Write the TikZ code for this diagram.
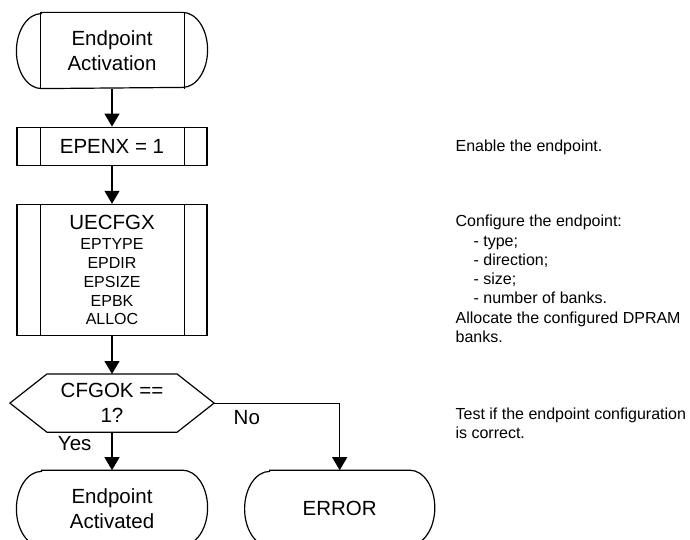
\documentclass[tikz,border=0pt]{standalone}
\usepackage{fontspec}
\setmainfont{Liberation Sans}
\usetikzlibrary{arrows.meta,positioning}
\newcommand\bigtxt{\fontsize{20.5pt}{25pt}\selectfont}
\newcommand\smalltxt{\fontsize{16pt}{18.7pt}\selectfont}
\newcommand\notetxt{\fontsize{16pt}{19.3pt}\selectfont}

\begin{document}
\begin{tikzpicture}[x=1pt,y=1pt,>={Triangle[width=15pt,length=13pt]},line width=1.2pt,node distance=38pt and 37pt,
  term/.style={inner sep=0,align=center,font=\bigtxt,minimum width=190pt,minimum height=75pt},
  proc/.style={draw,inner sep=0,align=center,font=\bigtxt,minimum width=190pt},
  test/.style={inner sep=0,align=center,font=\bigtxt,minimum width=203pt,minimum height=57pt},
  note/.style={inner sep=0,align=left,anchor=base west,font=\notetxt},
  lbl/.style={inner sep=0,font=\bigtxt}]
\useasboundingbox (0,0) rectangle (690,-540);
\node[term] (start) at (112,-50.5) {Endpoint\\Activation};
\node[proc,minimum height=38pt,below=of start] (enx) {EPENX = 1};
\node[proc,minimum height=131pt,below=of enx,font=\smalltxt] (cfg) {{\bigtxt UECFGX}\\[2pt]EPTYPE\\EPDIR\\EPSIZE\\EPBK\\ALLOC};
\node[test,below=of cfg] (ok) {CFGOK ==\\1?};
\node[term,below=of ok] (done) {Endpoint\\Activated};
\node[term,minimum width=189pt,right=of done] (err) {ERROR};
% outlines of the terminals, side bars and the test
\foreach \n in {start,done,err}
  \draw ([xshift=25pt]\n.north west) -- ([xshift=-25pt]\n.north east)
    arc[start angle=90,end angle=-90,x radius=25pt,y radius=37.5pt]
    -- ([xshift=25pt]\n.south west)
    arc[start angle=270,end angle=90,x radius=25pt,y radius=37.5pt] -- cycle;
\foreach \n in {start,enx,cfg}
  \draw ([xshift=24pt]\n.north west) -- ([xshift=24pt]\n.south west)
        ([xshift=-23pt]\n.north east) -- ([xshift=-23pt]\n.south east);
\draw (ok.west) -- ([xshift=37pt]ok.north west) -- ([xshift=-37pt]ok.north east) -- (ok.east)
  -- ([xshift=-37pt]ok.south east) -- ([xshift=37pt]ok.south west) -- cycle;
\draw[->] (start) -- (enx);
\draw[->] (enx) -- (cfg);
\draw[->] (cfg) -- (ok);
\draw[->] (ok) -- (done);
\draw[->] (ok.east) -| (err.north);
\node[lbl,anchor=north east] (yes) at ([xshift=-20pt,yshift=-4pt]ok.south) {Yes};
\node[lbl,anchor=north west] (no) at ([xshift=19pt,yshift=-7pt]ok.east) {No};
% comments on the right (base = last line)
\node[note] (n1) at (455,-152) {Enable the endpoint.};
\node[note] (n2) at (455,-342.5) {Configure the endpoint:\\\hspace*{18pt}- type;\\\hspace*{18pt}- direction;\\\hspace*{18pt}- size;\\\hspace*{18pt}- number of banks.\\Allocate the configured DPRAM\\banks.};
\node[note] (n3) at (455,-438.5) {Test if the endpoint configuration\\is correct.};
\end{tikzpicture}
\end{document}
